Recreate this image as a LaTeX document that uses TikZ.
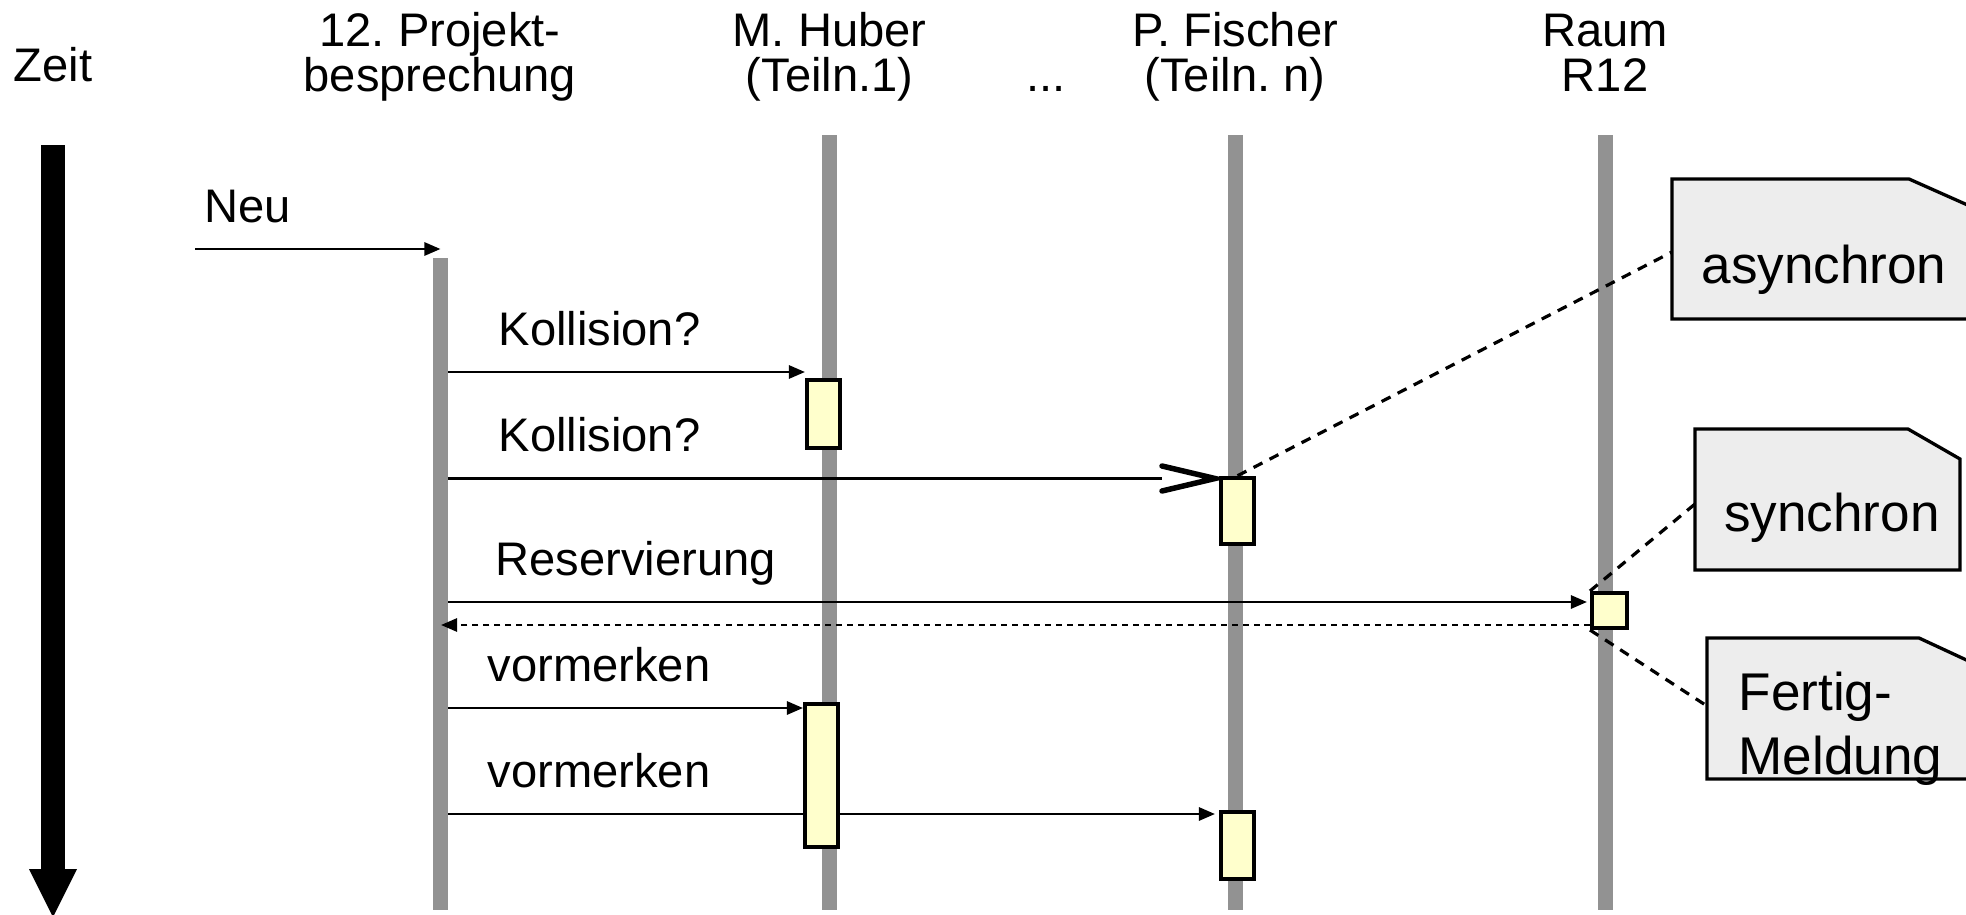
\documentclass[tikz,border=0pt]{standalone}
\usepackage{fontspec}
\setmainfont{Liberation Sans}
\usetikzlibrary{arrows.meta,calc}
\pgfdeclarelayer{back}
\pgfsetlayers{back,main}
\definecolor{lifegray}{RGB}{146,146,146}
\definecolor{actyellow}{RGB}{255,255,204}
\definecolor{notegray}{RGB}{237,237,237}
\tikzset{
  hdr/.style={font=\fontsize{13.4}{16}\selectfont, anchor=base, inner sep=0pt},
  lbl/.style={font=\fontsize{13.4}{16}\selectfont, anchor=base west, inner sep=0pt},
  notetxt/.style={font=\fontsize{15.1}{18}\selectfont, inner sep=0pt},
  lifeline/.style={draw=lifegray, line width=0.15cm},
  act/.style={draw=black, line width=0.04cm, fill=actyellow, inner sep=0pt, minimum width=0.33cm},
  plainmsg/.style={draw=black, line width=0.027cm},
  msg/.style={plainmsg, -{Triangle[length=0.16cm,width=0.13cm]}},
  reply/.style={msg, dash pattern=on 0.06cm off 0.05cm},
  opentip/.style={draw=black, line width=0.055cm, line cap=round, line join=miter},
  notebox/.style={draw=black, line width=0.033cm, fill=notegray, line join=miter},
  notelink/.style={draw=black, line width=0.032cm, dash pattern=on 0.1cm off 0.08cm},
}
\frenchspacing
\begin{document}
\frenchspacing
\begin{tikzpicture}[x=0.01cm,y=-0.01cm]
\useasboundingbox (0,0) rectangle (1966,915);
\clip (0,0) rectangle (1966,915);

% headers
\node[hdr] (zeit) at (53,81) {Zeit};
\node[hdr] (hP1) at (440,47) {12. Projekt-};
\node[hdr] (hP2) at (440,91) {besprechung};
\node[hdr] (hH1) at (829.5,47) {M. Huber};
\node[hdr] (hH2) at (829.5,91) {(Teiln.1)};
\node[hdr] (dots) at (1046,91) {...};
\node[hdr] (hF1) at (1235,47) {P. Fischer};
\node[hdr] (hF2) at (1235,91) {(Teiln. n)};
\node[hdr] (hR1) at (1605,47) {Raum};
\node[hdr] (hR2) at (1605,91) {R12};

% time axis
\fill[black] (40.5,145) rectangle (64.5,870);
\fill[black] (29,869) -- (77,869) -- (53,917) -- cycle;

% lifeline ends
\coordinate (Ptop) at (440.5,258); \coordinate (Pbot) at (440.5,910);
\coordinate (Htop) at (829.5,135); \coordinate (Hbot) at (829.5,910);
\coordinate (Ftop) at (1235,135);  \coordinate (Fbot) at (1235,910);
\coordinate (Rtop) at (1605,135);  \coordinate (Rbot) at (1605,910);

% activations
\node[act, minimum height=0.68cm] (a1) at (823.5,414) {};
\node[act, minimum height=0.665cm] (a2) at (1237.5,511) {};
\node[act, minimum height=1.43cm] (a3) at (821.5,775.5) {};
\node[act, minimum height=0.665cm] (a4) at (1237.5,845.5) {};
\node[act, minimum width=0.35cm, minimum height=0.35cm] (ar) at (1609.5,610.5) {};

% notes
\draw[notebox] (1672,179) -- (1909,179) -- (1972,207) -- (1972,319) -- (1672,319) -- cycle;
\node[notetxt, anchor=base] (tA) at (1824,283) {asynchron};
\draw[notebox] (1695,429) -- (1908,429) -- (1960,459) -- (1960,570) -- (1695,570) -- cycle;
\node[notetxt, anchor=base] (tS) at (1832,531) {synchron};
\draw[notebox] (1707,638) -- (1919,638) -- (1975,664) -- (1975,779) -- (1707,779) -- cycle;
\node[notetxt, anchor=base west] (tF1) at (1738,710) {Fertig-};
\node[notetxt, anchor=base west] (tF2) at (1738,774) {Meldung};
\coordinate (nA) at (1672,252);
\coordinate (nS) at (1695,504);
\coordinate (nF) at (1707,706);

% message labels
\node[lbl] (lNeu) at (204,222) {Neu};
\node[lbl] (lK1) at (498,345) {Kollision?};
\node[lbl] (lK2) at (498,451) {Kollision?};
\node[lbl] (lRes) at (495,575) {Reservierung};
\node[lbl] (lV1) at (487,681) {vormerken};
\node[lbl] (lV2) at (487,787) {vormerken};

% open arrow tip of asynchronous message
\coordinate (v2) at ($(a2.west)+(-4,0)$);
\coordinate (v2m) at (v2 |- 0,478.5);
\draw[opentip] ($(v2m)+(-53,-12.5)$) -- (v2m) -- ($(v2m)+(-53,12.5)$);

\begin{pgfonlayer}{back}
\draw[lifeline] (Ptop) -- (Pbot);
\draw[lifeline] (Htop) -- (Hbot);
\draw[lifeline] (Ftop) -- (Fbot);
\draw[lifeline] (Rtop) -- (Rbot);

\coordinate (neu0) at (195,249);
\draw[msg] (neu0) -- (Ptop |- neu0);

\coordinate (s1) at (448,372);
\draw[msg] (s1) -- (a1.west |- s1);
\coordinate (s2) at (448,478.5);
\draw[plainmsg, shorten >=0.57cm] (s2) -- (a2.west |- s2);
\coordinate (s3) at (448,602);
\draw[msg, shorten >=0.03cm] (s3) -- (ar.west |- s3);
\coordinate (r) at (441,625);
\draw[reply] (ar.west |- r) -- (r);
\coordinate (s4) at (448,708);
\draw[msg] (s4) -- (a3.west |- s4);
\coordinate (s5) at (448,814);
\draw[msg, shorten >=0.04cm] (s5) -- (a4.west |- s5);

\draw[notelink] (a2.north) -- (nA);
\draw[notelink] (ar.north west) -- (nS);
\draw[notelink] (ar.south west) -- (nF);
\end{pgfonlayer}
\end{tikzpicture}
\end{document}
